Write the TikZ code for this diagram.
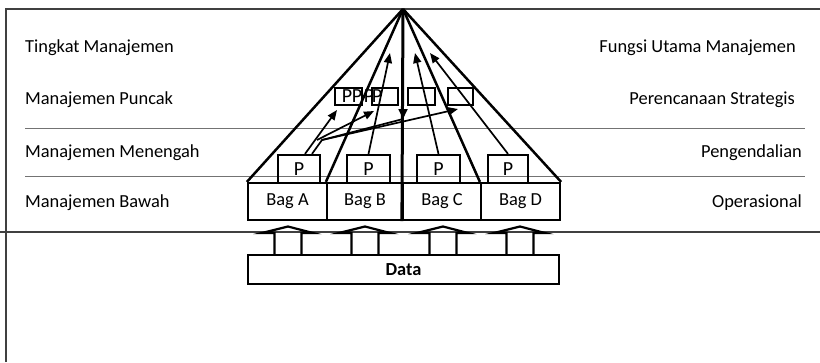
\documentclass[tikz,border=0pt]{standalone}
\usepackage{fontspec}
\setmainfont{Carlito}
\usetikzlibrary{arrows.meta}
\begin{document}
\begin{tikzpicture}[x=1pt,y=-1pt,
  lbl/.style={font=\fontsize{18.4}{22}\selectfont, inner sep=0pt},
  box/.style={draw, line width=2.2pt, inner sep=0pt, font=\fontsize{18.4}{22}\selectfont},
  pbox/.style={box, font=\fontsize{20}{24}\selectfont},
  frameline/.style={draw=black!75, line width=2pt},
  sepline/.style={draw=black!55, line width=1pt},
  pyr/.style={line width=2.5pt},
  arr/.style={line width=1.7pt, -{Triangle[length=10pt,width=8pt]}},
  blockarrow/.style={line width=2.2pt, line join=miter},
]
\useasboundingbox (0,0) rectangle (820,362);
\fill[white] (0,0) rectangle (820,362);
% frame
\draw[frameline] (6,362) -- (6,9) -- (820,9);
\draw[frameline] (0,232) -- (820,232);
\draw[sepline] (25,128) -- (805,128);
\draw[sepline] (25,176) -- (805,176);
% left labels
\node[lbl, anchor=base west] (l1) at (25,52) {Tingkat Manajemen};
\node[lbl, anchor=base west] (l2) at (25,104) {Manajemen Puncak};
\node[lbl, anchor=base west] (l3) at (25,157) {Manajemen Menengah};
\node[lbl, anchor=base west] (l4) at (25,207) {Manajemen Bawah};
% right labels
\node[lbl, anchor=base east] (r1) at (796,52) {Fungsi Utama Manajemen};
\node[lbl, anchor=base east] (r2) at (795,104) {Perencanaan Strategis};
\node[lbl, anchor=base east] (r3) at (802,157) {Pengendalian};
\node[lbl, anchor=base east] (r4) at (802,207) {Operasional};
% bag boxes
\node[box, minimum width=79pt, minimum height=37pt] (bagA) at (287.5,201.5) {Bag A};
\node[box, minimum width=76pt, minimum height=37pt] (bagB) at (365,201.5) {Bag B};
\node[box, minimum width=78pt, minimum height=37pt] (bagC) at (442,201.5) {Bag C};
\node[box, minimum width=79pt, minimum height=37pt] (bagD) at (520.5,201.5) {Bag D};
% P boxes
\node[pbox, minimum width=42pt, minimum height=28pt] (pA) at (299,169) {P};
\node[pbox, minimum width=43pt, minimum height=28pt] (pB) at (368.5,169) {P};
\node[pbox, minimum width=43pt, minimum height=28pt] (pC) at (438.5,169) {P};
\node[pbox, minimum width=40pt, minimum height=28pt] (pD) at (508,169) {P};
% top boxes
\node[box, minimum width=27pt, minimum height=17pt] (t1) at (348.5,96.5) {};
\node[box, minimum width=26pt, minimum height=17pt] (t2) at (385,96.5) {};
\node[box, minimum width=27pt, minimum height=17pt] (t3) at (421.5,96.5) {};
\node[box, minimum width=25pt, minimum height=17pt] (t4) at (460.5,96.5) {};
\node[lbl, font=\fontsize{20}{24}\selectfont] (q1) at (347,96) {P};
\node[lbl, font=\fontsize{20}{24}\selectfont] (q2) at (357,96) {P};
\node[lbl, font=\fontsize{20}{24}\selectfont] (q3) at (369,96) {P};
\node[lbl, font=\fontsize{20}{24}\selectfont] (q4) at (377,96) {P};
% data box
\node[box, minimum width=311pt, minimum height=29pt, font=\fontsize{18.4}{22}\selectfont\bfseries] (data) at (403.5,269.5) {Data};
% block arrows data -> bags
\foreach \c in {288,365,443,520}{
  \draw[blockarrow] ({\c-13.5},255) -- ({\c-13.5},233) -- ({\c-26},233) -- (\c,226.5) -- ({\c+25},233) -- ({\c+13.5},233) -- ({\c+13.5},255);
}
% pyramid
\coordinate (apex) at (403,9);
\draw[pyr] (apex) -- (bagA.north west);
\draw[pyr] (apex) -- (bagB.north west);
\draw[pyr] (apex) -- (bagD.north west);
\draw[pyr] (apex) -- (bagD.north east);
\draw[line width=3pt] (apex) -- (bagC.south west);
\coordinate (ca) at (403,119);
\draw[line width=1.7pt, -{Triangle[length=10pt,width=9pt]}] (403,100) -- (ca);
% arrows from P boxes
\coordinate (eB) at (390,53);
\coordinate (eC) at (415,53);
\coordinate (eD) at (430,53);
\draw[arr] (pB.north) -- (eB);
\draw[arr] (pC.north) -- (eC);
\draw[arr] (pD.north) -- (eD);
\coordinate (e1) at (337,110);
\coordinate (e2) at (374,111);
\coordinate (e4) at (458,109);
\coordinate (bend) at (322,140);
\coordinate (br) at (317,140);
\draw[arr] ([xshift=6pt]pA.north) -- (e1);
\draw[arr] ([xshift=13pt]pA.north) -- (bend) -- (e4);
\draw[arr] (br) -- (e2);
\draw[line width=1.7pt] (bend) -- (ca);
\end{tikzpicture}
\end{document}
